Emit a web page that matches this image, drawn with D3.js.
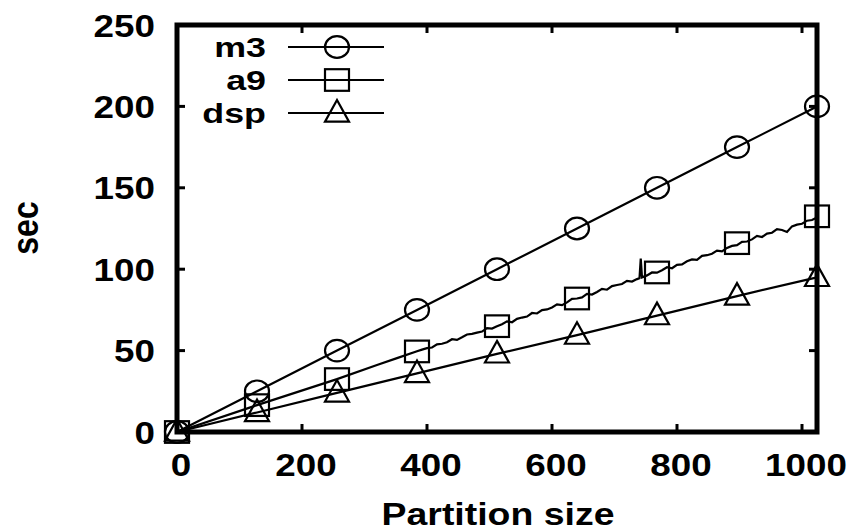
<!DOCTYPE html>
<html>
<head>
<meta charset="utf-8">
<script src="https://cdn.jsdelivr.net/npm/d3@7"></script>
<style>
  html, body { margin: 0; padding: 0; background: #fff; }
  svg { display: block; }
  text { font-family: "Liberation Sans", Arial, Helvetica, sans-serif; font-weight: bold; fill: #000; }
</style>
</head>
<body>
<svg id="chart" width="852" height="532"></svg>
<script>
// ---- data ----
const sizes = [0, 128, 256, 384, 512, 640, 768, 896, 1024];
const m3 = [0, 25, 50, 75, 100, 125, 150, 175, 200];
const a9 = [0, 16.5, 32.5, 49.5, 65, 82, 98, 116, 132.5];
const dsp = [0, 12, 24, 36, 48, 59.5, 71.5, 83.5, 95];

const a9TraceSizes = [0, 128, 256, 320, 352, 384, 392, 400, 408, 416, 424, 432, 440, 448, 456, 464, 472, 480, 488, 496, 504, 512, 520, 528, 536, 544, 552, 560, 568, 576, 584, 592, 600, 608, 616, 624, 632, 640, 648, 656, 664, 672, 680, 688, 696, 704, 712, 720, 728, 736, 740, 742, 744, 752, 760, 768, 776, 784, 792, 800, 808, 816, 824, 832, 840, 848, 856, 864, 872, 880, 888, 896, 904, 912, 920, 928, 936, 944, 952, 960, 968, 976, 984, 992, 1000, 1008, 1016, 1024];
const a9TraceValues = [0, 16.5, 32.5, 41.2, 45.4, 49.6, 50.6, 51.5, 51.9, 53.8, 54.2, 55.1, 57.0, 56.6, 58.2, 59.9, 60.3, 61.0, 61.7, 63.8, 63.5, 64.9, 66.2, 68.0, 67.4, 69.5, 70.3, 70.9, 73.1, 72.8, 74.9, 75.3, 76.5, 78.4, 77.9, 79.6, 81.8, 82.0, 82.7, 84.8, 84.4, 86.0, 87.9, 87.4, 89.6, 90.3, 90.9, 92.8, 92.4, 93.9, 94.5, 106.5, 95.0, 96.2, 98.0, 97.9, 99.4, 101.2, 100.6, 102.7, 103.0, 104.9, 106.0, 105.8, 108.2, 108.6, 109.5, 111.4, 110.9, 113.1, 114.3, 114.8, 116.8, 117.0, 118.3, 120.5, 119.8, 121.9, 122.4, 124.6, 124.1, 122.9, 126.3, 127.4, 127.9, 129.8, 130.2, 131.8];

const xTicks = [0, 200, 400, 600, 800, 1000];
const yTicks = [0, 50, 100, 150, 200, 250];
const seriesNames = ["m3", "a9", "dsp"];
const xTitle = "Partition size";
const yTitle = "sec";

// ---- layout ----
const svg = d3.select("#chart");
const L = 177, R = 817, T = 25, B = 432;
const SX = 1.15; // horizontal stretch of text
const x = d3.scaleLinear().domain([0, 1024]).range([L, R]);
const y = d3.scaleLinear().domain([0, 250]).range([B, T]);

const line = d3.line().x(d => x(d[0])).y(d => y(d[1]));

// marker shapes (slightly wider than tall)
const RX = 12, RY = 10.8;
function drawMarker(g, kind, cx, cy) {
  if (kind === "m3") {
    g.append("ellipse").attr("cx", cx).attr("cy", cy).attr("rx", RX).attr("ry", RY)
      .attr("fill", "none").attr("stroke", "#000").attr("stroke-width", 2.2);
  } else if (kind === "a9") {
    g.append("rect").attr("x", cx - RX).attr("y", cy - RY).attr("width", 2 * RX).attr("height", 2 * RY)
      .attr("fill", "none").attr("stroke", "#000").attr("stroke-width", 2.2);
  } else {
    const h = 2 * RY;
    g.append("path")
      .attr("d", `M${cx},${cy - h * 0.6} L${cx + RX},${cy + h * 0.4} L${cx - RX},${cy + h * 0.4} Z`)
      .attr("fill", "none").attr("stroke", "#000").attr("stroke-width", 2.2);
  }
}

// lines
const gLines = svg.append("g");
gLines.append("path").datum(sizes.map((s, i) => [s, m3[i]])).attr("d", line)
  .attr("fill", "none").attr("stroke", "#000").attr("stroke-width", 2.2);
gLines.append("path").datum(a9TraceSizes.map((s, i) => [s, a9TraceValues[i]])).attr("d", line)
  .attr("fill", "none").attr("stroke", "#000").attr("stroke-width", 2.2).attr("stroke-linejoin", "miter");
gLines.append("path").datum(sizes.map((s, i) => [s, dsp[i]])).attr("d", line)
  .attr("fill", "none").attr("stroke", "#000").attr("stroke-width", 2.2);

// markers
const gMarks = svg.append("g");
const seriesVals = { m3: m3, a9: a9, dsp: dsp };
seriesNames.forEach(name => {
  sizes.forEach((s, i) => drawMarker(gMarks, name, x(s), y(seriesVals[name][i])));
});

// frame + ticks
const gFrame = svg.append("g");
gFrame.append("rect").attr("x", L).attr("y", T).attr("width", R - L).attr("height", B - T)
  .attr("fill", "none").attr("stroke", "#000").attr("stroke-width", 5);
xTicks.forEach(t => {
  gFrame.append("line").attr("x1", x(t)).attr("x2", x(t)).attr("y1", B).attr("y2", B - 8)
    .attr("stroke", "#000").attr("stroke-width", 3);
  gFrame.append("line").attr("x1", x(t)).attr("x2", x(t)).attr("y1", T).attr("y2", T + 8)
    .attr("stroke", "#000").attr("stroke-width", 3);
});
yTicks.forEach(t => {
  gFrame.append("line").attr("x1", L).attr("x2", L + 8).attr("y1", y(t)).attr("y2", y(t))
    .attr("stroke", "#000").attr("stroke-width", 3);
  gFrame.append("line").attr("x1", R).attr("x2", R - 8).attr("y1", y(t)).attr("y2", y(t))
    .attr("stroke", "#000").attr("stroke-width", 3);
});

// tick labels
function stretchedText(g, tx, ty, str, size, anchor, sx) {
  return g.append("text")
    .attr("transform", `translate(${tx},${ty}) scale(${sx},1)`)
    .attr("text-anchor", anchor)
    .style("font-size", size + "px")
    .text(str);
}
const gText = svg.append("g");
xTicks.forEach(t => stretchedText(gText, x(t) + 4, 476, String(t), 32, "middle", SX));
yTicks.forEach(t => stretchedText(gText, 155, y(t) + 11.5, String(t), 32, "end", SX));

// axis titles
stretchedText(gText, 498, 525, xTitle, 32, "middle", 1.17);
gText.append("text")
  .attr("transform", `translate(38,228) scale(${SX},1) rotate(-90)`)
  .attr("text-anchor", "middle")
  .style("font-size", "32px")
  .text(yTitle);

// legend
const gLeg = svg.append("g");
seriesNames.forEach((name, i) => {
  const ly = 47 + i * 33;
  stretchedText(gLeg, 266, ly + 10, name, 28, "end", 1.28);
  gLeg.append("line").attr("x1", 288).attr("x2", 384).attr("y1", ly).attr("y2", ly)
    .attr("stroke", "#000").attr("stroke-width", 2.2);
  drawMarker(gLeg, name, 337, ly);
});
</script>
</body>
</html>
